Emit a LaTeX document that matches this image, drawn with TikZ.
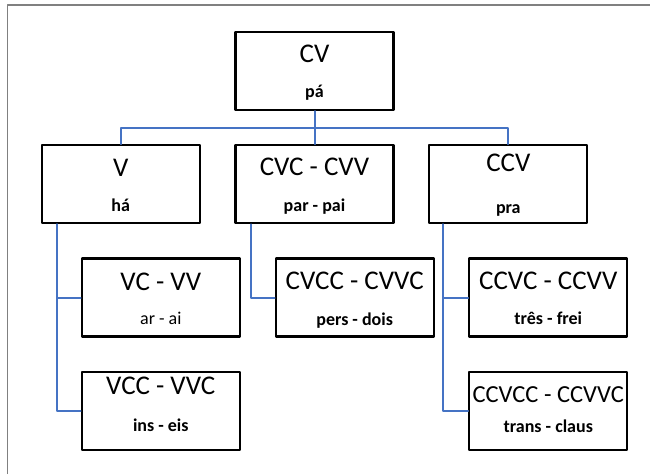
\documentclass[tikz,border=0pt]{standalone}
\usepackage{fontspec}
\setmainfont{Carlito}
\usepackage{tikz}
\definecolor{linkblue}{rgb}{0.27,0.45,0.77}
\definecolor{framegray}{rgb}{0.5,0.5,0.5}
\usetikzlibrary{positioning}

\tikzset{
	sylbox/.style = {draw=black, line width=2.3pt, minimum width=158pt, minimum height=78pt, inner sep=0pt},
	bigtxt/.style = {anchor=base, inner sep=0pt, font=\fontsize{27}{32}\selectfont},
	smalltxt/.style = {anchor=base, inner sep=0pt, font=\fontsize{18}{21}\selectfont\bfseries},
	link/.style = {draw=linkblue, line width=2pt}
}

\begin{document}
\begin{tikzpicture}[x=1pt,y=-1pt,line cap=round,line join=round]
	\useasboundingbox (0,0) rectangle (650,474);
	\draw [framegray, line width=1.6pt, line cap=butt] (7.3,474) -- (7.3,5) -- (650,5);
	% boxes
	\node [sylbox] (cv) at (314.5,71) {};
	\node [sylbox] (v) at (120.7,184.3) {};
	\node [sylbox] (cvc) at (314.5,184.3) {};
	\node [sylbox] (ccv) at (508.3,184.3) {};
	\node [sylbox] (vc) at (160.8,297.5) {};
	\node [sylbox] (vcc) at (160.8,411) {};
	\node [sylbox] (cvcc) at (354.7,297.5) {};
	\node [sylbox] (ccvc) at (548.3,297.5) {};
	\node [sylbox] (ccvcc) at (548.3,411) {};
	% texts
	\node [bigtxt] (cvA) at ([yshift=-32pt]cv.north) {CV};
	\node [smalltxt] (cvB) at ([yshift=-67pt]cv.north) {pá};
	\node [bigtxt] (vA) at ([yshift=-32pt]v.north) {V};
	\node [smalltxt] (vB) at ([yshift=-67pt]v.north) {há};
	\node [bigtxt] (cvcA) at ([yshift=-31pt]cvc.north) {CVC - CVV};
	\node [smalltxt] (cvcB) at ([yshift=-67pt]cvc.north) {par - pai};
	\node [bigtxt] (ccvA) at ([yshift=-27pt]ccv.north) {CCV};
	\node [smalltxt] (ccvB) at ([yshift=-69pt]ccv.north) {pra};
	\node [bigtxt] (vcA) at ([yshift=-33pt]vc.north) {VC - VV};
	\node [smalltxt, font=\fontsize{18}{21}\selectfont] (vcB) at ([yshift=-67pt]vc.north) {ar - ai};
	\node [bigtxt] (vccA) at ([yshift=-24pt]vcc.north) {VCC - VVC};
	\node [smalltxt] (vccB) at ([yshift=-61pt]vcc.north) {ins - eis};
	\node [bigtxt] (cvccA) at ([yshift=-32pt]cvcc.north) {CVCC - CVVC};
	\node [smalltxt] (cvccB) at ([yshift=-68pt]cvcc.north) {pers - dois};
	\node [bigtxt] (ccvcA) at ([yshift=-32pt]ccvc.north) {CCVC - CCVV};
	\node [smalltxt] (ccvcB) at ([yshift=-67pt]ccvc.north) {três - frei};
	\node [bigtxt, font=\fontsize{24.5}{29}\selectfont] (ccvccA) at ([yshift=-32pt]ccvcc.north) {CCVCC - CCVVC};
	\node [smalltxt] (ccvccB) at ([yshift=-62pt]ccvcc.north) {trans - claus};
	% connectors
	\coordinate (hub) at (314.5,127.7);
	\draw [link] (cv.south) -- (cvc.north);
	\draw [link] (v.north) |- (hub) -| (ccv.north);
	\draw [link] ([xshift=16.6pt]v.south west) |- (vc.west);
	\draw [link] ([xshift=16.6pt]v.south west) |- (vcc.west);
	\draw [link] ([xshift=16.3pt]cvc.south west) |- (cvcc.west);
	\draw [link] ([xshift=15.3pt]ccv.south west) |- (ccvc.west);
	\draw [link] ([xshift=15.3pt]ccv.south west) |- (ccvcc.west);
\end{tikzpicture}
\end{document}
